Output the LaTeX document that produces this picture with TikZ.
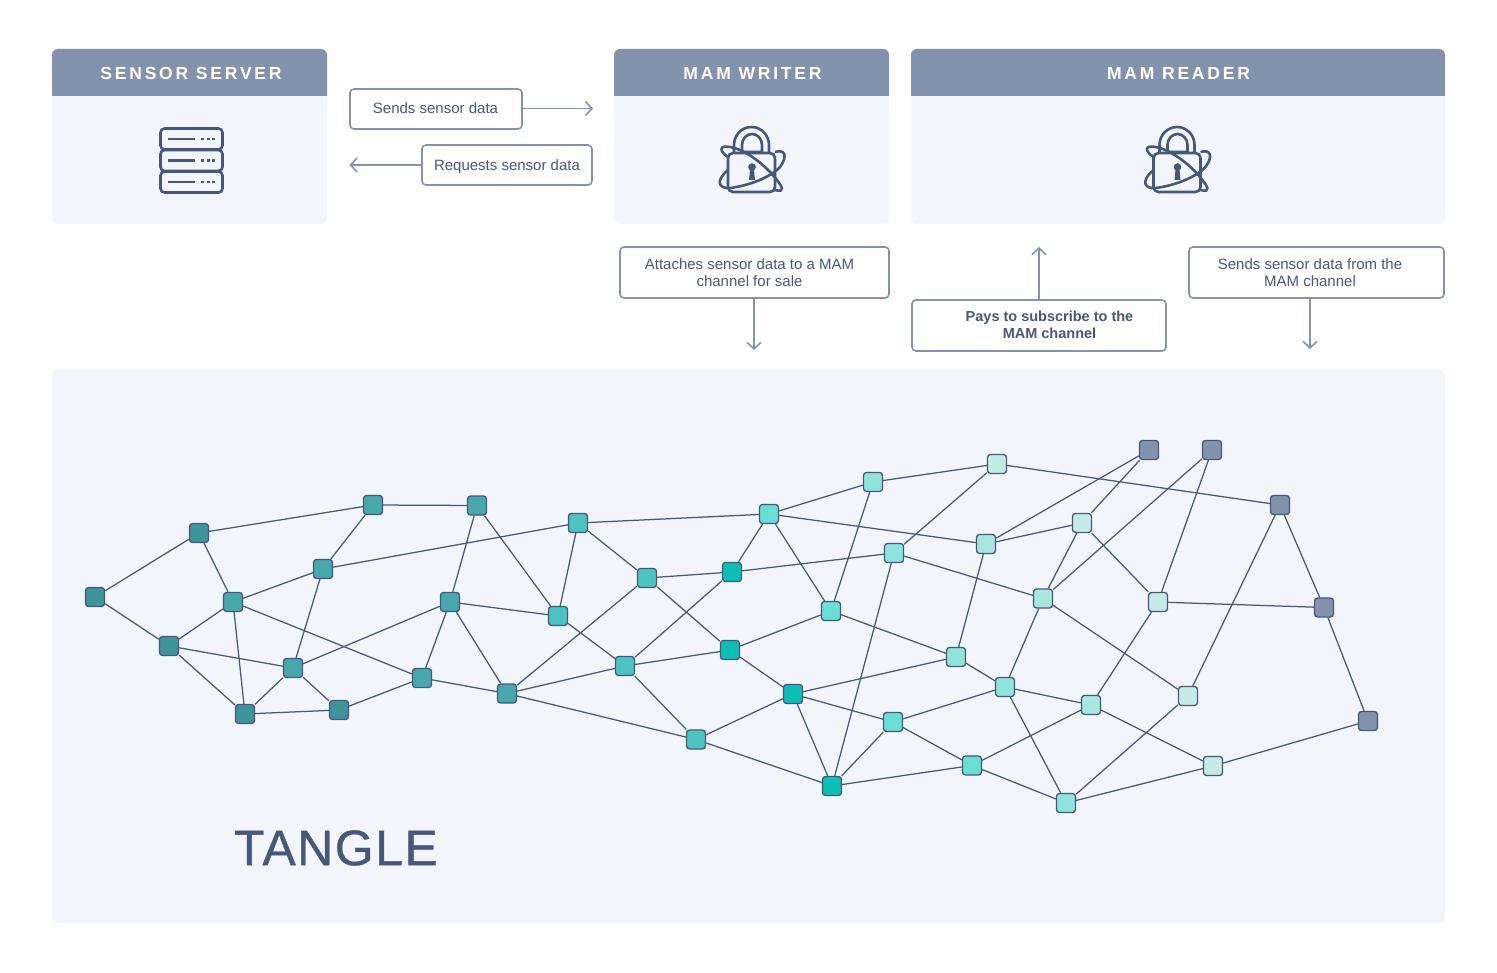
\documentclass[tikz,border=0pt]{standalone}
\usepackage{fontspec}
\usepackage{tikz}
\usetikzlibrary{arrows.meta}
\setmainfont{Liberation Sans}
\newfontfamily\headfont[LetterSpace=16]{Liberation Sans}
\newfontfamily\bigfont[LetterSpace=3,FakeBold=0.8]{Liberation Sans}
\definecolor{ink}{HTML}{46587A}
\definecolor{slate}{HTML}{8393AE}
\definecolor{pale}{HTML}{F3F5FD}
\definecolor{tanA}{HTML}{3F949C}
\definecolor{tanB}{HTML}{46A7AD}
\definecolor{tanC}{HTML}{4CC3C0}
\definecolor{tanD}{HTML}{0CBEB6}
\definecolor{tanE}{HTML}{6BDED4}
\definecolor{tanF}{HTML}{8EE3DB}
\definecolor{tanG}{HTML}{A8E7E0}
\definecolor{tanH}{HTML}{C5EBE6}
\tikzset{
  panel/.style={fill=pale,rounded corners=6pt},
  header/.style={fill=slate,rounded corners=6pt},
  headtext/.style={text=white,font=\headfont\bfseries\fontsize{17.5}{20}\selectfont},
  lblbox/.style={draw=slate,line width=1.6pt,fill=white,rounded corners=4pt,inner sep=0pt},
  lbltext/.style={text=ink,align=center,font=\fontsize{15}{17}\selectfont,inner sep=0pt},
  flow/.style={draw=slate,line width=1.6pt,-{Straight Barb[length=6.5pt,width=14pt,line width=1.6pt]}},
  tx/.style={draw=ink,line width=1.3pt,rounded corners=3pt,minimum size=19pt,inner sep=0pt},
  link/.style={draw=ink,line width=1.25pt},
  pics/servericon/.style={code={
    \foreach \y in {-21.5,0,21.5}{
      \draw[ink,line width=2.6pt,rounded corners=4pt] (-31,\y-10.5) rectangle (31,\y+10.5);
      \draw[ink,line width=2.6pt] (-24,\y) -- (3,\y);
      \foreach \x in {11,17,22}{\fill[ink] (\x-1.4,\y-1.4) rectangle (\x+1.4,\y+1.4);}
    }
  }},
  pics/lockicon/.style={code={
    \draw[ink,line width=2.6pt,rounded corners=5pt] (-24,-7) rectangle (23,32);
    \draw[ink,line width=2.6pt] (-18,-7) -- (-18,-15) arc[start angle=180,end angle=360,x radius=17.5,y radius=18] -- (17,-7);
    \draw[ink,line width=2.6pt] (-10,-8) -- (-10,-15) arc[start angle=180,end angle=360,x radius=10,y radius=11] -- (10,-8) -- cycle;
    \fill[ink] (0,7) circle (3.8);
    \fill[ink] (-1.8,8) -- (1.8,8) -- (3,20) -- (-3,20) -- cycle;
    \draw[ink,line width=2.6pt] (-24,-3) .. controls (-33,-9) and (-33,-15) .. (-22,-13) .. controls (-5,-10) and (15,7) .. (24,19) .. controls (30,26) and (34,33) .. (23,30);
    \draw[ink,line width=2.6pt] (23,-8) .. controls (33,-11) and (36,-4) .. (28,7) .. controls (18,18) and (-5,26) .. (-22,28) .. controls (-32,29) and (-38,22) .. (-24,10);
  }}
}
\begin{document}
\begin{tikzpicture}[x=1pt,y=-1pt]
  \useasboundingbox (0,0) rectangle (1497,973);

  % panels
  \fill[panel] (52,49) rectangle (327,224);
  \fill[panel] (614,49) rectangle (889,224);
  \fill[panel] (911,49) rectangle (1445,224);
  \fill[panel] (52,370) rectangle (1445,923);
  \begin{scope}
    \clip (52,49) rectangle (327,96);
    \fill[header] (52,49) rectangle (327,110);
  \end{scope}
  \begin{scope}
    \clip (614,49) rectangle (889,96);
    \fill[header] (614,49) rectangle (889,110);
  \end{scope}
  \begin{scope}
    \clip (911,49) rectangle (1445,96);
    \fill[header] (911,49) rectangle (1445,110);
  \end{scope}
  \node[headtext] (server)  at (191,73.5)  {SENSOR SERVER};
  \node[headtext] (writer)  at (752.5,73.5) {MAM WRITER};
  \node[headtext] (reader)  at (1178.5,73.5) {MAM READER};
  \pic at (191.5,160.5) {servericon};
  \pic at (752,160) {lockicon};
  \pic at (1177.5,160) {lockicon};

  % labels
  \node[lblbox,minimum width=172pt,minimum height=40pt] (sends) at (436,109) {};
  \node[lbltext] (sendstxt) at (435.5,108) {Sends sensor data};
  \node[lblbox,minimum width=170pt,minimum height=40pt] (requests) at (507,165) {};
  \node[lbltext] (requeststxt) at (507,167) {Requests sensor data};
  \node[lblbox,minimum width=269pt,minimum height=51pt] (attaches) at (754.5,272.5) {};
  \node[lbltext] (attachestxt) at (749.5,272.5) {Attaches sensor data to a MAM\\channel for sale};
  \node[lblbox,minimum width=254pt,minimum height=51pt] (pays) at (1039,325.5) {};
  \node[lbltext,font=\bfseries\fontsize{14.5}{17}\selectfont] (paystxt) at (1049.5,324.5) {Pays to subscribe to the\\MAM channel};
  \node[lblbox,minimum width=255pt,minimum height=51pt] (channel) at (1316.5,272.5) {};
  \node[lbltext] (channeltxt) at (1310,272.5) {Sends sensor data from the\\MAM channel};

  \coordinate (sendsend) at (593,108.5);
  \coordinate (reqend) at (349.5,165);
  \coordinate (attachfrom) at (754,298);
  \coordinate (attachend) at (754,350);
  \coordinate (paysfrom) at (1039,300);
  \coordinate (paysend) at (1039,247);
  \coordinate (chanfrom) at (1310,298);
  \coordinate (chanend) at (1310,349);
  \draw[flow] (sends.east |- sendsend) -- (sendsend);
  \draw[flow] (requests.west) -- (reqend);
  \draw[flow] (attachfrom) -- (attachend);
  \draw[flow] (paysfrom) -- (paysend);
  \draw[flow] (chanfrom) -- (chanend);

  % tangle
  \node[text=ink,font=\bigfont\fontsize{50}{56}\selectfont] (tangle) at (336,848) {TANGLE};

  \node[tx,fill=tanA]  (n1)  at (95,597)   {};
  \node[tx,fill=tanA]  (n2)  at (199,533)  {};
  \node[tx,fill=tanA]  (n3)  at (169,646)  {};
  \node[tx,fill=tanB]  (n4)  at (233,602)  {};
  \node[tx,fill=tanA]  (n5)  at (245,714)  {};
  \node[tx,fill=tanB]  (n6)  at (293,668)  {};
  \node[tx,fill=tanA]  (n7)  at (339,710)  {};
  \node[tx,fill=tanB]  (n8)  at (323,569)  {};
  \node[tx,fill=tanB]  (n9)  at (373,505)  {};
  \node[tx,fill=tanB]  (n10) at (477,505.5) {};
  \node[tx,fill=tanB]  (n11) at (422,678)  {};
  \node[tx,fill=tanB]  (n12) at (450,602)  {};
  \node[tx,fill=tanB]  (n13) at (507,693.5) {};
  \node[tx,fill=tanC]  (n14) at (558,616)  {};
  \node[tx,fill=tanC]  (n15) at (578,523)  {};
  \node[tx,fill=tanC]  (n16) at (625,666)  {};
  \node[tx,fill=tanC]  (n17) at (647,578)  {};
  \node[tx,fill=tanC]  (n18) at (696,739.5) {};
  \node[tx,fill=tanD]  (n19) at (730,650)  {};
  \node[tx,fill=tanD]  (n20) at (732,572)  {};
  \node[tx,fill=tanE]  (n21) at (769,514)  {};
  \node[tx,fill=tanD]  (n22) at (793,694)  {};
  \node[tx,fill=tanE]  (n23) at (831,611)  {};
  \node[tx,fill=tanD]  (n24) at (832,786)  {};
  \node[tx,fill=tanF]  (n25) at (873,482)  {};
  \node[tx,fill=tanF]  (n26) at (894,553)  {};
  \node[tx,fill=tanE]  (n27) at (893,722)  {};
  \node[tx,fill=tanF]  (n28) at (956,657)  {};
  \node[tx,fill=tanE]  (n29) at (972,765.5) {};
  \node[tx,fill=tanG]  (n30) at (986,544)  {};
  \node[tx,fill=tanH]  (n31) at (997,464)  {};
  \node[tx,fill=tanF]  (n32) at (1005,687) {};
  \node[tx,fill=tanG]  (n33) at (1043,598.5) {};
  \node[tx,fill=tanF]  (n34) at (1066,803) {};
  \node[tx,fill=tanH]  (n35) at (1082,523) {};
  \node[tx,fill=tanG]  (n36) at (1091,705) {};
  \node[tx,fill=slate] (n37) at (1149,450) {};
  \node[tx,fill=tanH]  (n38) at (1158,602) {};
  \node[tx,fill=tanH]  (n39) at (1188,696) {};
  \node[tx,fill=slate] (n40) at (1212,450) {};
  \node[tx,fill=tanH]  (n41) at (1213,766) {};
  \node[tx,fill=slate] (n42) at (1280,505) {};
  \node[tx,fill=slate] (n43) at (1324,607.5) {};
  \node[tx,fill=slate] (n44) at (1368,721) {};

  \path[link] (n1) edge (n2) (n1) edge (n3) (n2) edge (n9) (n2) edge (n4)
    (n3) edge (n4) (n3) edge (n6) (n3) edge (n5)
    (n4) edge (n5) (n4) edge (n8) (n4) edge (n11)
    (n5) edge (n6) (n5) edge (n7) (n6) edge (n7) (n6) edge (n8) (n6) edge (n12)
    (n7) edge (n11) (n8) edge (n9) (n8) edge (n15) (n9) edge (n10)
    (n10) edge (n12) (n10) edge (n14) (n11) edge (n12) (n11) edge (n13)
    (n12) edge (n13) (n12) edge (n14) (n13) edge (n16) (n13) edge (n17) (n13) edge (n18)
    (n14) edge (n15) (n14) edge (n16) (n15) edge (n17) (n15) edge (n21)
    (n16) edge (n19) (n16) edge (n18) (n16) edge (n20)
    (n17) edge (n20) (n17) edge (n19) (n18) edge (n22) (n18) edge (n24)
    (n19) edge (n22) (n19) edge (n23) (n20) edge (n21) (n20) edge (n26)
    (n21) edge (n23) (n21) edge (n25) (n21) edge (n30)
    (n22) edge (n24) (n22) edge (n27) (n22) edge (n28)
    (n23) edge (n25) (n23) edge (n28) (n24) edge (n26) (n24) edge (n27) (n24) edge (n29)
    (n25) edge (n31) (n26) edge (n31) (n26) edge (n33)
    (n27) edge (n32) (n27) edge (n29) (n28) edge (n30) (n28) edge (n32)
    (n29) edge (n34) (n29) edge (n36) (n30) edge (n35) (n30) edge (n37)
    (n31) edge (n42) (n32) edge (n33) (n32) edge (n36) (n32) edge (n34)
    (n33) edge (n35) (n33) edge (n40) (n33) edge (n39)
    (n34) edge (n39) (n34) edge (n41) (n35) edge (n37) (n35) edge (n38)
    (n36) edge (n38) (n36) edge (n41) (n38) edge (n40) (n38) edge (n43)
    (n39) edge (n42) (n41) edge (n44) (n42) edge (n43) (n43) edge (n44);
\end{tikzpicture}
\end{document}
